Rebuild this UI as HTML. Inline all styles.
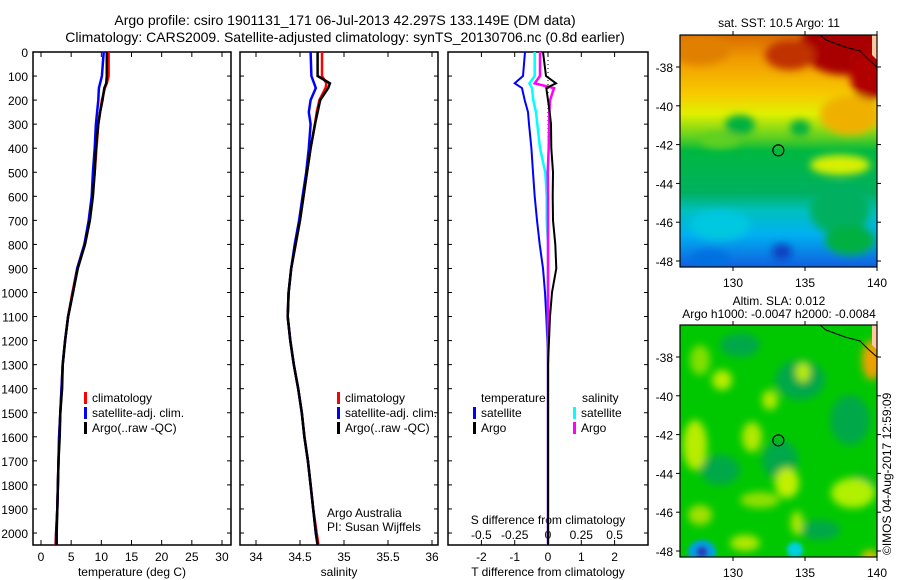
<!DOCTYPE html>
<html><head><meta charset="utf-8">
<style>
html,body{margin:0;padding:0;background:#fff;}
svg{display:block;font-family:"Liberation Sans",sans-serif;}
text{fill:#000;}
</style></head>
<body>
<svg id="fig" width="900" height="580" viewBox="0 0 900 580" xmlns="http://www.w3.org/2000/svg">
<defs>
<linearGradient id="sstGrad" x1="0" y1="0" x2="0" y2="1">
<stop offset="0" stop-color="#d86a00"/>
<stop offset="0.1" stop-color="#f09a00"/>
<stop offset="0.25" stop-color="#f8c800"/>
<stop offset="0.34" stop-color="#e0f000"/>
<stop offset="0.44" stop-color="#60d020"/>
<stop offset="0.5" stop-color="#00b840"/>
<stop offset="0.68" stop-color="#00b060"/>
<stop offset="0.76" stop-color="#00c0c0"/>
<stop offset="0.86" stop-color="#00b0f0"/>
<stop offset="1" stop-color="#1060e0"/>
</linearGradient>
<clipPath id="m1clip"><rect x="680" y="35" width="197" height="232"/></clipPath>
<clipPath id="m2clip"><rect x="680" y="325" width="197" height="232"/></clipPath>
<filter id="blur4"><feGaussianBlur stdDeviation="4"/></filter>
<filter id="blur2"><feGaussianBlur stdDeviation="2"/></filter>
</defs>
<text x="345" y="25" font-size="14" text-anchor="middle">Argo profile: csiro 1901131_171 06-Jul-2013 42.297S 133.149E (DM data)</text>
<text x="345" y="42" font-size="14" text-anchor="middle">Climatology: CARS2009. Satellite-adjusted climatology: synTS_20130706.nc (0.8d earlier)</text>
<g id="panels"></g>
<g id="maps"></g>
<text transform="translate(891,555) rotate(-90)" font-size="12">©IMOS 04-Aug-2017 12:59:09</text>
</svg>
<script>
// ---------- data ----------
const depths = [0,100,130,150,200,250,300,400,500,600,700,800,900,1000,1100,1200,1300,1400,1500,1600,1700,1800,1900,2000,2050];
const tempArgo = [10.9,10.9,10.8,10.5,10.2,9.8,9.5,9.1,8.9,8.6,8.1,7.3,6.1,5.3,4.5,4.0,3.6,3.5,3.2,3.1,2.9,2.8,2.7,2.6,2.6];
const tempClim = [11.2,11.2,10.9,10.6,10.1,9.8,9.5,9.2,8.9,8.5,8.0,7.2,6.0,5.2,4.5,4.0,3.6,3.4,3.2,3.0,2.9,2.8,2.7,2.5,2.4];
const tempSat  = [10.4,10.1,9.8,9.6,9.5,9.3,9.1,8.9,8.6,8.4,7.9,7.2,6.0,5.3,4.5,4.0,3.6,3.4,3.2,3.0,2.9,2.8,2.7,2.5,2.5];
const salArgo = [34.70,34.70,34.84,34.82,34.73,34.70,34.67,34.62,34.58,34.54,34.50,34.45,34.40,34.37,34.36,34.39,34.43,34.48,34.52,34.55,34.59,34.62,34.65,34.68,34.70];
const salClim = [34.75,34.75,34.80,34.79,34.72,34.69,34.67,34.62,34.58,34.54,34.50,34.45,34.40,34.37,34.36,34.39,34.43,34.48,34.52,34.55,34.59,34.62,34.65,34.69,34.71];
const salSat  = [34.62,34.63,34.66,34.68,34.62,34.60,34.62,34.60,34.57,34.53,34.49,34.44,34.40,34.37,34.36,34.39,34.43,34.48,34.52,34.55,34.59,34.62,34.65,34.68,34.70];
const dTSat  = [-0.69,-0.75,-1.0,-0.78,-0.70,-0.60,-0.57,-0.50,-0.45,-0.40,-0.33,-0.25,-0.15,-0.09,-0.05,-0.02,0,0,0,0,0,0,0,0,0];
const dTArgo = [-0.15,-0.06,0.24,-0.05,0,0.05,0.09,0.10,0.15,0.14,0.15,0.22,0.25,0.12,0.06,0.03,0,0,0,0,0,0,0,0,0];
const dSSat  = [-0.10,-0.10,-0.14,-0.12,-0.11,-0.09,-0.08,-0.06,-0.02,-0.01,-0.01,0,0,0,0,0,0,0,0,0,0,0,0,0,0];
const dSArgo = [-0.06,-0.06,-0.10,0.045,0.016,0.01,0.008,0.005,-0.002,0,0,0,0,0,0,0,0,0,0,0,0,0,0,0,0];
const depthTicks = [0,100,200,300,400,500,600,700,800,900,1000,1100,1200,1300,1400,1500,1600,1700,1800,1900,2000];
const tempTicks = [0,5,10,15,20,25,30];
const salTicks = [34,34.5,35,35.5,36];
const dTTicks = [-2,-1,0,1,2];
const dSTicks = [-0.5,-0.25,0,0.25,0.5];
const lonTicks = [130,135,140];
const latTicks = [-38,-40,-42,-44,-46,-48];
const floatPos = [133.149,-42.297];

const NS="http://www.w3.org/2000/svg";
function mk(tag,attrs,parent){const e=document.createElementNS(NS,tag);for(const k in attrs)e.setAttribute(k,attrs[k]);if(parent)parent.appendChild(e);return e;}
const yD = d => 52 + d*0.2405;
const xT = v => 41 + v*6.033;
const xS = v => 256 + (v-34)*88;
const xDT = v => 548 + v*33.3;
const xDS = v => 548 + v*133.2;
const plotTop=52, plotBot=545;
const panelsG=document.getElementById('panels');

function makeFrame(x0,x1,name){
  const g=mk('g',{},panelsG);
  
  
  const r=mk('rect',{x:x0,y:plotTop,width:x1-x0,height:plotBot-plotTop,fill:'none',stroke:'#000','stroke-width':1.5},g);
  
  
  depthTicks.forEach(d=>{
    mk('line',{x1:x0,x2:x0+4,y1:yD(d),y2:yD(d),stroke:'#000'},g);
    mk('line',{x1:x1-4,x2:x1,y1:yD(d),y2:yD(d),stroke:'#000'},g);
  });
  return g;
}
function xticks(g,ticks,fx,labelY){
  ticks.forEach(t=>{
    const x=fx(t);
    mk('line',{x1:x,x2:x,y1:plotTop,y2:plotTop+5,stroke:'#000'},g);
    mk('line',{x1:x,x2:x,y1:plotBot-5,y2:plotBot,stroke:'#000'},g);
    const tx=mk('text',{x:x,y:labelY,'font-size':12,'text-anchor':'middle'},g);
    
    
    tx.textContent=String(t);
  });
}
function drawSeries(g,vals,fx,color,name,w){
  const pts=vals.map((v,i)=>fx(v).toFixed(1)+','+yD(depths[i]).toFixed(1)).join(' ');
  const p=mk('polyline',{points:pts,fill:'none',stroke:color,'stroke-width':w||2.5},g);
  
  
}
function addText(g,x,y,txt,name,size,anchor){
  const t=mk('text',{x:x,y:y,'font-size':size||12,'text-anchor':anchor||'start'},g);
  
  
  t.textContent=txt;return t;
}
function legendEntry(g,x,y,color,txt,name){
  const r=mk('rect',{x:x,y:y-10,width:3,height:12,fill:color},g);
  
  
  addText(g,x+8,y,txt,name);
}
const yl=mk('g',{},panelsG);


depthTicks.forEach(d=>addText(yl,28,yD(d)+5,String(d),'depth-tick-label',12,'end'));

const p1=makeFrame(33,231,'temperature-panel');
xticks(p1,tempTicks,xT,561);
addText(p1,132,576,'temperature (deg C)','x-axis-title',12,'middle');
drawSeries(p1,tempClim,xT,'#ff0000','clim-temp-line');
drawSeries(p1,tempSat,xT,'#0000ff','sat-temp-line');
drawSeries(p1,tempArgo,xT,'#000000','argo-temp-line');
legendEntry(p1,84,402,'#ff0000','climatology','legend-climatology');
legendEntry(p1,84,417,'#0000ff','satellite-adj. clim.','legend-satellite');
legendEntry(p1,84,432,'#000000','Argo(..raw -QC)','legend-argo');

const p2=makeFrame(240,438,'salinity-panel');
xticks(p2,salTicks,xS,561);
addText(p2,339,576,'salinity','x-axis-title',12,'middle');
drawSeries(p2,salClim,xS,'#ff0000','clim-sal-line');
drawSeries(p2,salSat,xS,'#0000ff','sat-sal-line');
drawSeries(p2,salArgo,xS,'#000000','argo-sal-line');
legendEntry(p2,337,402,'#ff0000','climatology','legend-climatology');
legendEntry(p2,337,417,'#0000ff','satellite-adj. clim.','legend-satellite');
legendEntry(p2,337,432,'#000000','Argo(..raw -QC)','legend-argo');
addText(p2,327,517,'Argo Australia','credit-line-1');
addText(p2,327,531,'PI: Susan Wijffels','credit-line-2');

const p3=makeFrame(448,648,'difference-panel');
xticks(p3,dTTicks,xDT,561);
dSTicks.forEach(t=>addText(p3,xDS(t),539,String(t),'s-tick-label',12,'middle'));
addText(p3,548,524,'S difference from climatology','s-axis-title',12,'middle');
addText(p3,548,576,'T difference from climatology','x-axis-title',12,'middle');
const z=mk('line',{x1:xDT(0),x2:xDT(0),y1:plotTop,y2:plotBot,stroke:'#000','stroke-dasharray':'1,3'},p3);


drawSeries(p3,dTSat,xDT,'#0000ff','sat-tdiff-line',2);
drawSeries(p3,dSSat,xDS,'#00ffff','sat-sdiff-line',2.5);
drawSeries(p3,dSArgo,xDS,'#ff00ff','argo-sdiff-line',2.5);
drawSeries(p3,dTArgo,xDT,'#000000','argo-tdiff-line',2);
addText(p3,481,402,'temperature','legend-temperature-heading');
legendEntry(p3,473,417,'#0000ff','satellite','legend-t-satellite');
legendEntry(p3,473,432,'#000000','Argo','legend-t-argo');
addText(p3,582,402,'salinity','legend-salinity-heading');
legendEntry(p3,573,417,'#00ffff','satellite','legend-s-satellite');
legendEntry(p3,573,432,'#ff00ff','Argo','legend-s-argo');

const mapsG=document.getElementById('maps');
const xL = lon => 733 + (lon-130)*14.4;
function mapAxes(g,y0,name){
  const yLat = lat => y0 + 32 + (-38-lat)*19.4;
  const r=mk('rect',{x:680,y:y0,width:197,height:232,fill:'none',stroke:'#000','stroke-width':1.2},g);
  
  
  lonTicks.forEach(l=>{
    const x=xL(l);
    mk('line',{x1:x,x2:x,y1:y0-4,y2:y0,stroke:'#000'},g);
    mk('line',{x1:x,x2:x,y1:y0+232,y2:y0+236,stroke:'#000'},g);
    addText(g,x,y0+252,String(l),'lon-tick-label',12,'middle');
  });
  latTicks.forEach(l=>{
    const y=yLat(l);
    mk('line',{x1:676,x2:680,y1:y,y2:y,stroke:'#000'},g);
    mk('line',{x1:877,x2:881,y1:y,y2:y,stroke:'#000'},g);
    addText(g,673,y+5,String(l),'lat-tick-label',12,'end');
  });
  const c=mk('circle',{cx:xL(floatPos[0]),cy:yLat(floatPos[1]),r:5.5,fill:'none',stroke:'#000','stroke-width':1.2},g);
  
  
  const coast=mk('polyline',{points:`820,${y0} 826,${y0+5} 845,${y0+12} 860,${y0+16} 868,${y0+24} 877,${y0+32}`,fill:'none',stroke:'#000','stroke-width':1},g);
  
  
}
const m1=mk('g',{},mapsG);


const m1i=mk('g',{'clip-path':'url(#m1clip)'},m1);
mk('rect',{x:680,y:35,width:197,height:232,fill:'url(#sstGrad)'},m1i);
const b1=mk('g',{filter:'url(#blur4)'},m1i);
[['#a80000',845,45,45,30],['#b00000',870,75,20,25],['#c03000',790,55,25,15],['#e08000',700,50,30,15],
 ['#f0b000',850,115,30,20],['#00b040',740,125,15,10],['#00b040',800,128,10,8],['#60d020',720,140,20,8],
 ['#d8f000',840,165,30,10],['#00b060',840,210,30,25],['#00c8e0',720,225,30,15],['#0070e0',710,258,20,8],
 ['#1040c0',782,252,10,8],['#00b040',850,240,25,15]].forEach(b=>mk('ellipse',{fill:b[0],cx:b[1],cy:b[2],rx:b[3],ry:b[4]},b1));
mk('path',{d:'M872,35 L877,35 L877,60 L872,55 Z',fill:'#ffc8a0'},m1i);
mapAxes(m1,35,'sst-map');
addText(m1,779,27,'sat. SST: 10.5 Argo: 11','sst-map-title',12,'middle');

const m2=mk('g',{},mapsG);


const m2i=mk('g',{'clip-path':'url(#m2clip)'},m2);
mk('rect',{x:680,y:325,width:197,height:232,fill:'#00c800'},m2i);
const b2=mk('g',{filter:'url(#blur4)'},m2i);
[['#00a848',740,345,20,12],['#00a848',800,380,25,20],['#00a848',850,420,20,25],['#00a848',720,470,20,15],['#00a848',780,460,18,20],['#00a848',860,490,15,15],['#00a848',820,530,20,10],
 ['#b8ec00',695,445,12,25],['#b8ec00',722,380,10,10],['#b8ec00',803,372,7,10],['#b0e800',752,437,10,15],['#b0e800',770,400,8,10],
 ['#c0f000',787,483,12,15],['#a0e000',700,515,12,10],['#b0f000',853,493,22,15],['#b0e800',797,523,6,12],['#b0e800',745,543,15,8],
 ['#80e000',700,360,10,15],['#90e000',760,500,20,8],
 ['#f0a000',872,360,10,20],['#e8c000',870,565,10,15]].forEach(b=>mk('ellipse',{fill:b[0],cx:b[1],cy:b[2],rx:b[3],ry:b[4]},b2));
const b3=mk('g',{filter:'url(#blur2)'},m2i);
mk('ellipse',{cx:702,cy:552,rx:14,ry:12,fill:'#00a0e0'},b3);
mk('ellipse',{cx:702,cy:552,rx:6,ry:6,fill:'#2040c0'},b3);
mk('ellipse',{cx:795,cy:550,rx:8,ry:8,fill:'#00d0e0'},b3);
mk('path',{d:'M872,325 L877,325 L877,350 L872,345 Z',fill:'#ffc8a0'},m2i);
mapAxes(m2,325,'sla-map');
addText(m2,779,305,'Altim. SLA: 0.012','sla-map-title-1',12,'middle');
addText(m2,779,318,'Argo h1000: -0.0047 h2000: -0.0084','sla-map-title-2',12,'middle');
</script>
</body></html>
